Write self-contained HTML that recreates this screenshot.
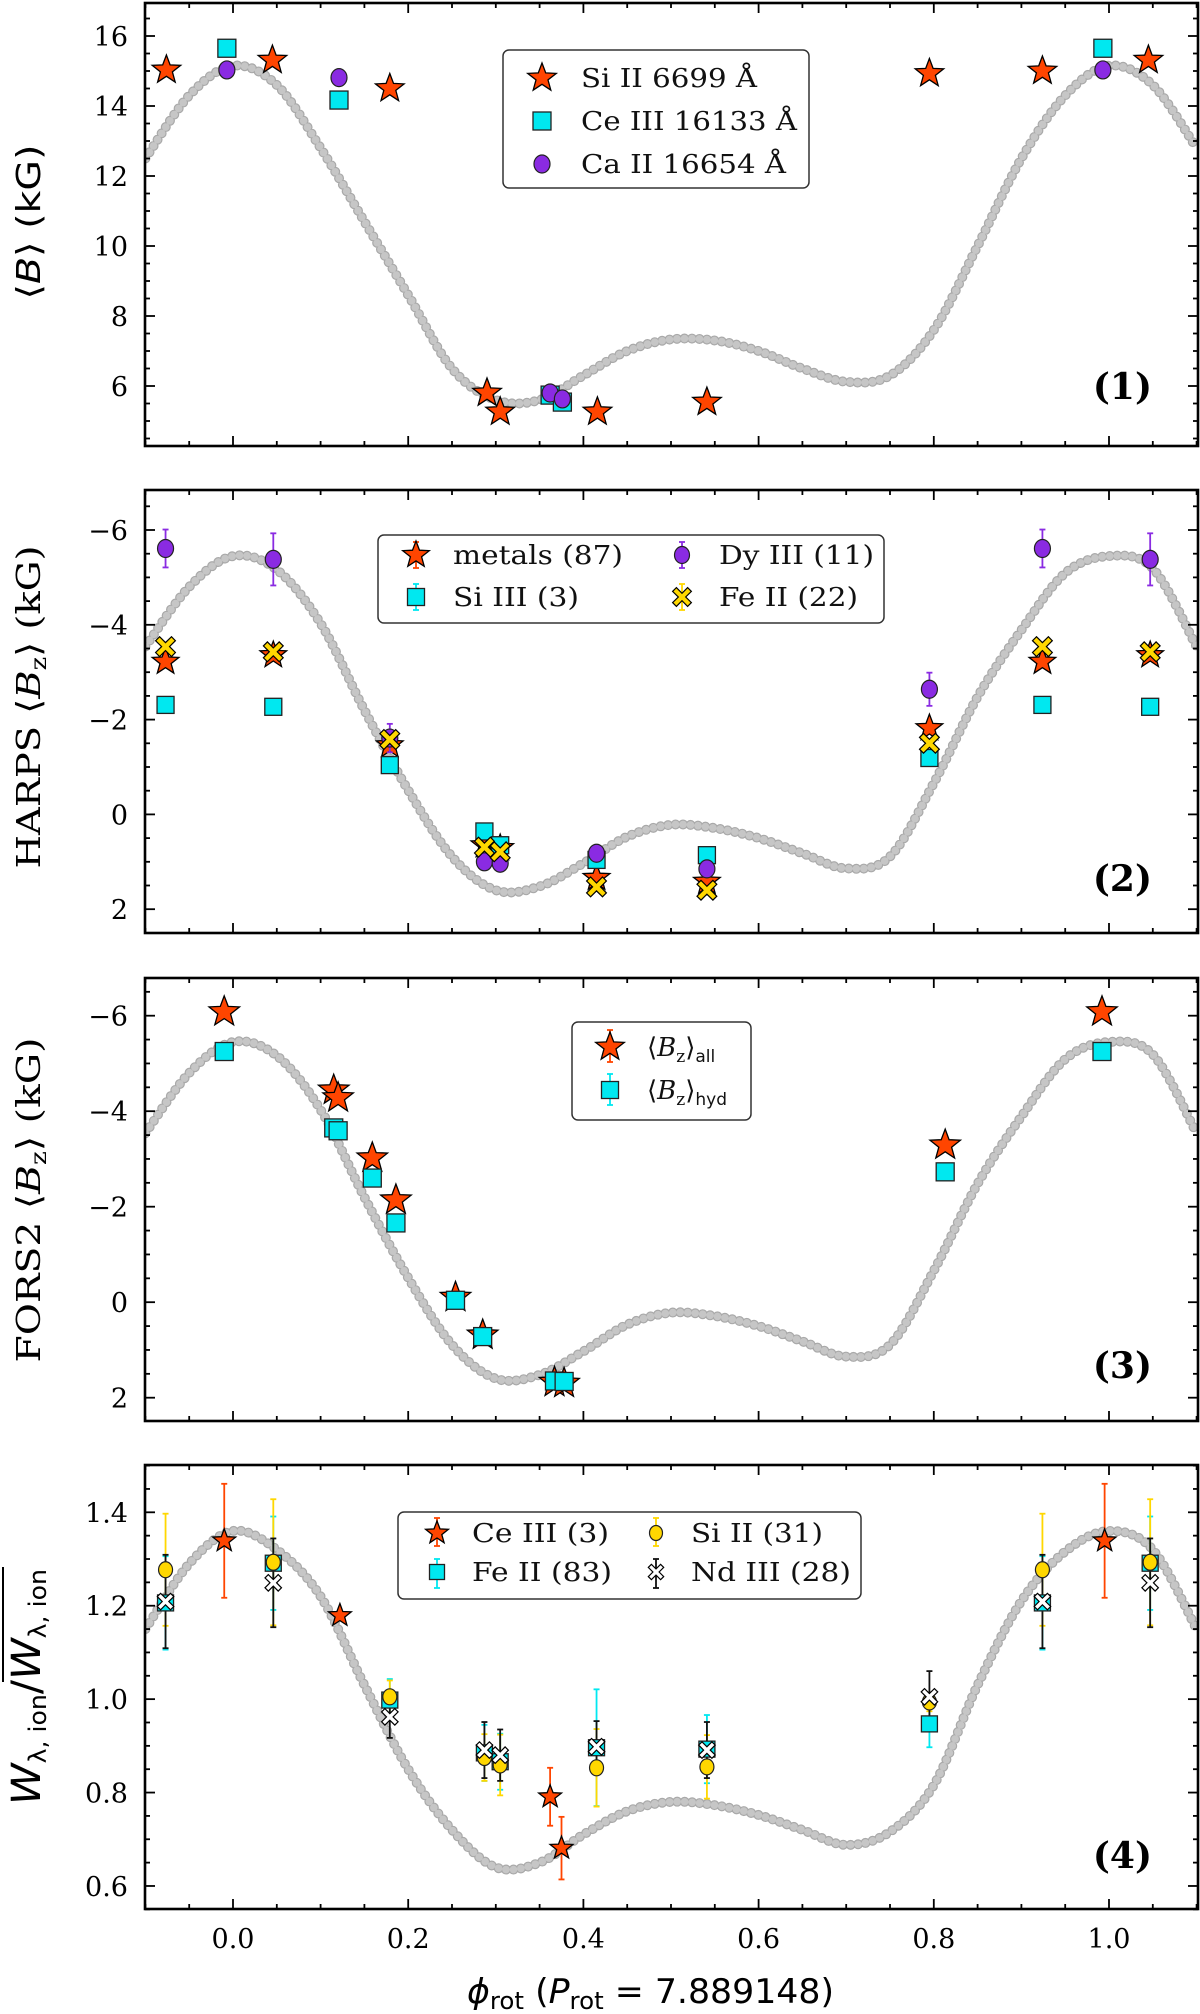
<!DOCTYPE html>
<html><head><meta charset="utf-8"><style>
html,body{margin:0;padding:0;background:#fff;}
svg{display:block;}
.tk{font-family:"DejaVu Serif","Liberation Serif",serif;font-size:27px;fill:#000;}
.lg{font-family:"DejaVu Serif","Liberation Serif",serif;font-size:26px;fill:#111;}
.sans{font-family:"DejaVu Sans","Liberation Sans",sans-serif;}
.serif{font-family:"DejaVu Serif","Liberation Serif",serif;}
</style></head><body>
<svg id="fig" width="1200" height="2014" viewBox="0 0 1200 2014" xmlns="http://www.w3.org/2000/svg"></svg>
<script>
// ---------- data ----------
const curvePhase = [-0.1,-0.05,0,0.05,0.1,0.15,0.2,0.25,0.3,0.35,0.4,0.45,0.5,0.55,0.6,0.65,0.7,0.75,0.8,0.85,0.9,0.95,1.0,1.05,1.1];
const curveB  = [12.5,14.3,15.15,14.6,12.8,10.7,8.6,6.5,5.6,5.6,6.3,7.0,7.33,7.3,7.0,6.5,6.12,6.3,7.6,10.0,12.5,14.3,15.15,14.6,12.8];
const curveBz = [-3.54,-4.8,-5.45,-5.16,-4.03,-2.2,-0.51,0.89,1.6,1.52,1.03,0.47,0.22,0.29,0.5,0.82,1.14,0.89,-0.66,-2.48,-3.89,-5.09,-5.45,-5.19,-3.54];
const curveW  = [1.15,1.29,1.36,1.32,1.22,1.03,0.85,0.72,0.64,0.65,0.71,0.76,0.78,0.773,0.752,0.72,0.688,0.716,0.816,1.03,1.21,1.316,1.36,1.32,1.15];

// panel 1
const p1SiPhase = [-0.076,0.045,0.179,0.29,0.305,0.416,0.541,0.795,0.924,1.045];
const p1SiB = [15.03,15.31,14.5,5.8,5.26,5.26,5.54,14.93,15.0,15.31];
const p1CePhase = [-0.007,0.121,0.362,0.376,0.993];
const p1CeB = [15.65,14.17,5.74,5.54,15.65];
const p1CaPhase = [-0.007,0.121,0.362,0.376,0.993];
const p1CaB = [15.03,14.81,5.8,5.63,15.03];

// panel 2
const p2Phase = [-0.077,0.046,0.179,0.287,0.305,0.415,0.541,0.795,0.924,1.047];
const p2Metals = [-3.22,-3.36,-1.46,0.65,0.71,1.34,1.42,-1.82,-3.22,-3.36];
const p2SiIII = [-2.31,-2.27,-1.04,0.36,0.65,0.96,0.86,-1.19,-2.31,-2.27];
const p2DyIII = [-5.61,-5.38,-1.61,1.0,1.03,0.82,1.15,-2.64,-5.61,-5.38];
const p2DyErr = [0.4,0.55,0.3,0.15,0.15,0.1,0.1,0.35,0.4,0.55];
const p2FeII = [-3.54,-3.43,-1.58,0.69,0.79,1.53,1.6,-1.5,-3.54,-3.43];

// panel 3
const p3Phase = [-0.010,0.115,0.120,0.159,0.186,0.254,0.285,0.367,0.378,0.813,0.992];
const p3All = [-6.08,-4.44,-4.28,-3.02,-2.14,-0.1,0.69,1.68,1.7,-3.29,-6.08];
const p3Hyd = [-5.25,-3.65,-3.59,-2.6,-1.66,-0.04,0.72,1.65,1.66,-2.73,-5.25];

// panel 4
const p4CePhase = [-0.01,0.122,0.362,0.375,0.995];
const p4Ce = [1.339,1.179,0.791,0.681,1.339];
const p4CeErr = [0.122,0,0.062,0.067,0.122];
const p4Phase = [-0.077,0.046,0.179,0.287,0.305,0.415,0.541,0.795,0.924,1.047];
const p4Fe = [1.206,1.291,0.998,0.885,0.866,0.896,0.893,0.947,1.206,1.291];
const p4FeErr = [0.1,0.1,0.045,0.06,0.06,0.125,0.073,0.05,0.1,0.1];
const p4Si = [1.277,1.293,1.005,0.875,0.859,0.853,0.855,0.994,1.277,1.293];
const p4SiErr = [0.12,0.135,0.035,0.05,0.065,0.083,0.068,0.02,0.12,0.135];
const p4Nd = [1.209,1.249,0.962,0.891,0.880,0.898,0.891,1.005,1.209,1.249];
const p4NdErr = [0.1,0.095,0.045,0.06,0.055,0.055,0.06,0.055,0.1,0.095];

const xTickVals = [0,0.2,0.4,0.6,0.8,1.0];
const xTickLabels = ['0.0','0.2','0.4','0.6','0.8','1.0'];
const p1TickVals = [6,8,10,12,14,16];
const p1TickLabels = ['6','8','10','12','14','16'];
const bzTickVals = [-6,-4,-2,0,2];
const bzTickLabels = ['\u22126','\u22124','\u22122','0','2'];
const p4TickVals = [0.6,0.8,1.0,1.2,1.4];
const p4TickLabels = ['0.6','0.8','1.0','1.2','1.4'];

// ---------- helpers ----------
const NS='http://www.w3.org/2000/svg';
const svg=document.getElementById('fig');
function mk(tag,attrs,parent){const e=document.createElementNS(NS,tag);for(const k in attrs)e.setAttribute(k,attrs[k]);(parent||svg).appendChild(e);return e;}
const X0=145,X1=1198;
function xs(p){return 233+p*876;}
const RED='#ff4500',CYAN='#00e8f0',PURP='#8a2be2',GOLD='#ffd700';

function starPts(cx,cy,R){let s=[];for(let i=0;i<10;i++){const r=i%2?R*0.42:R;const a=-Math.PI/2+i*Math.PI/5;s.push((cx+r*Math.cos(a)).toFixed(1)+','+(cy+r*Math.sin(a)).toFixed(1));}return s.join(' ');}
function xPts(cx,cy,s,w){const pts=[];const base=[[w,0],[s,s-w],[s-w,s],[0,w]];for(let q=0;q<4;q++){for(const [a,b] of base){const ang=q*Math.PI/2;const x=a*Math.cos(ang)-b*Math.sin(ang);const y=a*Math.sin(ang)+b*Math.cos(ang);pts.push((cx+x).toFixed(1)+','+(cy+y).toFixed(1));}}return pts.join(' ');}

function marker(g,type,cx,cy,sz,fill){
  if(type==='star')return mk('polygon',{points:starPts(cx,cy,sz),fill:fill,stroke:'#000','stroke-width':1.3,'stroke-linejoin':'miter'},g);
  if(type==='square')return mk('rect',{x:cx-sz/2,y:cy-sz/2,width:sz,height:sz,fill:fill,stroke:'#222','stroke-width':1.3},g);
  if(type==='circle')return mk('ellipse',{cx:cx,cy:cy,rx:sz/2,ry:sz/2+1,fill:fill,stroke:'#222','stroke-width':1.2},g);
  if(type==='x')return mk('polygon',{points:xPts(cx,cy,sz*0.55,sz*0.22),fill:fill,stroke:'#000','stroke-width':1.2},g);
}
function errbar(g,cx,y1,y2,color){
  mk('line',{x1:cx,y1:y1,x2:cx,y2:y2,stroke:color,'stroke-width':1.8},g);
  mk('line',{x1:cx-3,y1:y1,x2:cx+3,y2:y1,stroke:color,'stroke-width':1.8},g);
  mk('line',{x1:cx-3,y1:y2,x2:cx+3,y2:y2,stroke:color,'stroke-width':1.8},g);
}
function smoothPath(pts){
  let d='M'+pts[0][0].toFixed(1)+','+pts[0][1].toFixed(1);
  for(let i=0;i<pts.length-1;i++){
    const p0=pts[Math.max(0,i-1)],p1=pts[i],p2=pts[i+1],p3=pts[Math.min(pts.length-1,i+2)];
    const c1=[p1[0]+(p2[0]-p0[0])/6,p1[1]+(p2[1]-p0[1])/6];
    const c2=[p2[0]-(p3[0]-p1[0])/6,p2[1]-(p3[1]-p1[1])/6];
    d+=' C'+c1[0].toFixed(1)+','+c1[1].toFixed(1)+' '+c2[0].toFixed(1)+','+c2[1].toFixed(1)+' '+p2[0].toFixed(1)+','+p2[1].toFixed(1);
  }
  return d;
}

function panel(name,top,bot,ys,ymin,ymax,major,minor,tickVals,tickLabels,curve){
  const g=mk('g',{});
  
  
  const cid='clip-'+name;
  const cp=mk('clipPath',{id:cid},g);mk('rect',{x:X0,y:top,width:X1-X0,height:bot-top},cp);
  const cg=mk('g',{'clip-path':'url(#'+cid+')'},g);
  const pts=curvePhase.map((p,i)=>[xs(p),ys(curve[i])]);
  const path=mk('path',{d:smoothPath(pts),fill:'none',stroke:'#a9a9a9','stroke-width':10,'stroke-linecap':'round','stroke-dasharray':'0 7.5'},cg);
  
  
  mk('path',{d:smoothPath(pts),fill:'none',stroke:'#c6c6c6','stroke-width':7.6,'stroke-linecap':'round','stroke-dasharray':'0 7.5'},cg);
  // ticks
  const tg=mk('g',{stroke:'#000','stroke-width':1.8},g);
  for(let v=-0.1;v<=1.1001;v+=0.05){const x=xs(v);const isMaj=Math.abs(v*5-Math.round(v*5))<1e-6;const L=isMaj?10:5;
    mk('line',{x1:x,y1:bot,x2:x,y2:bot-L},tg);mk('line',{x1:x,y1:top,x2:x,y2:top+L},tg);}
  const n0=Math.ceil(ymin/minor-1e-6),n1=Math.floor(ymax/minor+1e-6);
  for(let k=n0;k<=n1;k++){const v=k*minor;const y=ys(v);const isMaj=Math.abs(v/major-Math.round(v/major))<1e-6;const L=isMaj?10:5;
    mk('line',{x1:X0,y1:y,x2:X0+L,y2:y},tg);mk('line',{x1:X1,y1:y,x2:X1-L,y2:y},tg);}
  tickVals.forEach((v,i)=>{const t=mk('text',{x:128,y:ys(v)+10,'text-anchor':'end',class:'tk'},g);t.textContent=tickLabels[i];
    
    });
  mk('rect',{x:X0,y:top,width:X1-X0,height:bot-top,fill:'none',stroke:'#000','stroke-width':2.6},g);
  return {g:g,cg:cg};
}
function legendBox(x,y,w,h,name){const r=mk('rect',{x:x,y:y,width:w,height:h,rx:6,fill:'#fff',stroke:'#333','stroke-width':1.5});
  
  }
function ltext(x,y,str,len,name){const t=mk('text',{x:x,y:y,class:'lg',textLength:len,lengthAdjust:'spacingAndGlyphs'});t.textContent=str;
  
  return t;}
function plabel(x,y,str){const t=mk('text',{x:x,y:y,'text-anchor':'end','font-size':36,'font-weight':'bold',class:'serif'});t.textContent=str;
  
  }

// ---------- panel 1 ----------
const y1=v=>36+(16-v)*35;
const P1=panel('panel-1',3,446,y1,4.29,16.94,2,0.5,p1TickVals,p1TickLabels,curveB);
p1SiPhase.forEach((p,i)=>{const m=marker(P1.cg,'star',xs(p),y1(p1SiB[i]),15,RED);
  
  });
p1CePhase.forEach((p,i)=>{const m=marker(P1.cg,'square',xs(p),y1(p1CeB[i]),18,CYAN);
  
  });
p1CaPhase.forEach((p,i)=>{const m=marker(P1.cg,'circle',xs(p),y1(p1CaB[i]),16,PURP);
  
  });
legendBox(503,50,306,138,'legend-1');
marker(svg,'star',542,78,15,RED);marker(svg,'square',542,121,18,CYAN);marker(svg,'circle',542,164,16,PURP);
ltext(581,87,'Si II 6699 Å',176,'legend-entry');ltext(581,130,'Ce III 16133 Å',216,'legend-entry');ltext(581,173,'Ca II 16654 Å',205,'legend-entry');
plabel(1152,399,'(1)');

// ---------- panel 2 ----------
const y2=v=>530+(v+6)*47.4;
const P2=panel('panel-2',490,933,y2,-6.77,2.48,2,0.5,bzTickVals,bzTickLabels,curveBz);
p2Phase.forEach((p,i)=>{const m=marker(P2.cg,'star',xs(p),y2(p2Metals[i]),14,RED);
  
  });
p2Phase.forEach((p,i)=>{const m=marker(P2.cg,'square',xs(p),y2(p2SiIII[i]),17,CYAN);
  
  });
p2Phase.forEach((p,i)=>{errbar(P2.cg,xs(p),y2(p2DyIII[i]-p2DyErr[i]),y2(p2DyIII[i]+p2DyErr[i]),PURP);
  const m=marker(P2.cg,'circle',xs(p),y2(p2DyIII[i]),16,PURP);
  
  });
p2Phase.forEach((p,i)=>{const m=marker(P2.cg,'x',xs(p),y2(p2FeII[i]),18,GOLD);
  
  });
legendBox(378,535,506,88,'legend-2');
errbar(svg,416,542,568,RED);marker(svg,'star',416,555,14,RED);
errbar(svg,416,584,610,CYAN);marker(svg,'square',416,597,17,CYAN);
errbar(svg,682,542,568,PURP);marker(svg,'circle',682,555,15,PURP);
errbar(svg,682,584,610,GOLD);marker(svg,'x',682,597,17,GOLD);
ltext(453,564,'metals (87)',170,'legend-entry');ltext(453,606,'Si III (3)',126,'legend-entry');
ltext(719,564,'Dy III (11)',155,'legend-entry');ltext(719,606,'Fe II (22)',139,'legend-entry');
plabel(1152,891,'(2)');

// ---------- panel 3 ----------
const y3=v=>1015.7+(v+6)*47.75;
const P3=panel('panel-3',978,1421,y3,-6.75,2.48,2,0.5,bzTickVals,bzTickLabels,curveBz);
p3Phase.forEach((p,i)=>{const m=marker(P3.cg,'star',xs(p),y3(p3All[i]),16,RED);
  
  });
p3Phase.forEach((p,i)=>{const m=marker(P3.cg,'square',xs(p),y3(p3Hyd[i]),18,CYAN);
  
  });
legendBox(572,1022,179,98,'legend-3');
errbar(svg,610,1030,1062,RED);marker(svg,'star',610,1047,15,RED);
errbar(svg,610,1074,1105,CYAN);marker(svg,'square',610,1090,17,CYAN);
(function(){const t=mk('text',{x:647,y:1056,class:'lg'});t.innerHTML='⟨<tspan font-style="italic">B</tspan><tspan font-size="17" dy="6">z</tspan><tspan dy="-6">⟩</tspan><tspan font-size="17" dy="6" class="sans">all</tspan>';
  
  
  const t2=mk('text',{x:647,y:1099,class:'lg'});t2.innerHTML='⟨<tspan font-style="italic">B</tspan><tspan font-size="17" dy="6">z</tspan><tspan dy="-6">⟩</tspan><tspan font-size="17" dy="6" class="sans">hyd</tspan>';
  
  })();
plabel(1152,1378,'(3)');

// ---------- panel 4 ----------
const y4=v=>1512.3+(1.4-v)*467.1;
const P4=panel('panel-4',1465,1909,y4,0.549,1.50,0.2,0.05,p4TickVals,p4TickLabels,curveW);
p4CePhase.forEach((p,i)=>{if(p4CeErr[i]>0)errbar(P4.cg,xs(p),y4(p4Ce[i]+p4CeErr[i]),y4(p4Ce[i]-p4CeErr[i]),RED);
  const m=marker(P4.cg,'star',xs(p),y4(p4Ce[i]),12,RED);
  
  });
p4Phase.forEach((p,i)=>{errbar(P4.cg,xs(p),y4(p4Fe[i]+p4FeErr[i]),y4(p4Fe[i]-p4FeErr[i]),CYAN);});
p4Phase.forEach((p,i)=>{errbar(P4.cg,xs(p),y4(p4Si[i]+p4SiErr[i]),y4(p4Si[i]-p4SiErr[i]),GOLD);});
p4Phase.forEach((p,i)=>{errbar(P4.cg,xs(p),y4(p4Nd[i]+p4NdErr[i]),y4(p4Nd[i]-p4NdErr[i]),'#111');});
p4Phase.forEach((p,i)=>{const m=marker(P4.cg,'square',xs(p),y4(p4Fe[i]),16,CYAN);
  
  });
p4Phase.forEach((p,i)=>{const m=marker(P4.cg,'circle',xs(p),y4(p4Si[i]),14,GOLD);
  
  });
p4Phase.forEach((p,i)=>{const m=marker(P4.cg,'x',xs(p),y4(p4Nd[i]),15,'#fff');
  
  });
legendBox(398,1512,463,87,'legend-4');
errbar(svg,437,1518,1546,RED);marker(svg,'star',437,1533,12,RED);
errbar(svg,437,1559,1588,CYAN);marker(svg,'square',437,1572,15,CYAN);
errbar(svg,656,1518,1546,GOLD);marker(svg,'circle',656,1533,13,GOLD);
errbar(svg,656,1559,1588,'#111');marker(svg,'x',656,1572,14,'#fff');
ltext(472,1542,'Ce III (3)',137,'legend-entry');ltext(472,1581,'Fe II (83)',140,'legend-entry');
ltext(691,1542,'Si II (31)',132,'legend-entry');ltext(691,1581,'Nd III (28)',160,'legend-entry');
plabel(1152,1868,'(4)');

// ---------- x tick labels & axis title ----------
xTickVals.forEach((v,i)=>{const t=mk('text',{x:xs(v),y:1948,'text-anchor':'middle',class:'tk'});t.textContent=xTickLabels[i];
  
  });
(function(){
  const t=mk('text',{x:467,y:2003,'font-size':34,class:'sans',textLength:367,lengthAdjust:'spacingAndGlyphs'});
  t.innerHTML='<tspan font-style="italic">ϕ</tspan><tspan font-size="24" dy="6">rot</tspan><tspan dy="-6"> (</tspan><tspan font-style="italic">P</tspan><tspan font-size="24" dy="6">rot</tspan><tspan dy="-6"> = 7.889148)</tspan>';
  
  
  function ylab(cx,cy,len,html,cls,fs,name){const e=mk('text',{x:0,y:0,'text-anchor':'middle','font-size':fs,class:cls,textLength:len,lengthAdjust:'spacingAndGlyphs',transform:'translate('+cx+','+cy+') rotate(-90)'});e.innerHTML=html;
    
    }
  ylab(40,222,155,'⟨<tspan font-style="italic">B</tspan>⟩ (kG)','sans',33,'y-axis-title-1');
  ylab(40,707,323,'HARPS ⟨<tspan font-style="italic">B</tspan><tspan font-size="22" dy="6">z</tspan><tspan dy="-6">⟩ (kG)</tspan>','serif',33,'y-axis-title-2');
  ylab(40,1200,325,'FORS2 ⟨<tspan font-style="italic">B</tspan><tspan font-size="22" dy="6">z</tspan><tspan dy="-6">⟩ (kG)</tspan>','serif',33,'y-axis-title-3');
  ylab(40,1687,236,'<tspan font-style="italic">W</tspan><tspan font-size="24" dy="6">λ, ion</tspan><tspan dy="-6">/</tspan><tspan font-style="italic">W</tspan><tspan font-size="24" dy="6">λ, ion</tspan>','sans',40,'y-axis-title-4');
  const ov=mk('line',{x1:3,y1:1567,x2:3,y2:1682,stroke:'#000','stroke-width':2});
  
  
})();
</script>
</body></html>
